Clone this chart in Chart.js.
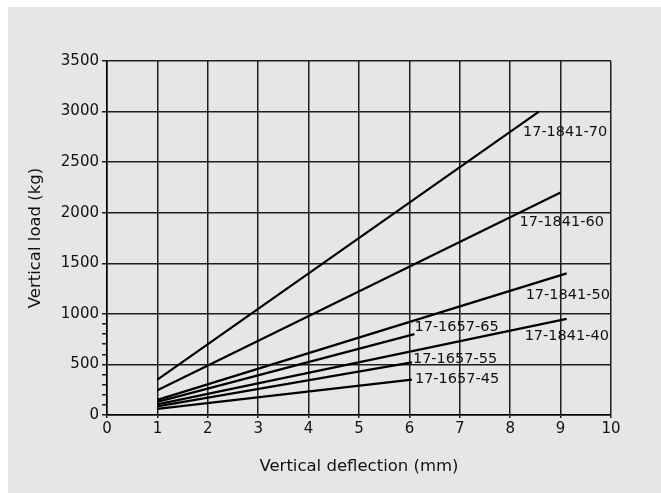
<!DOCTYPE html>
<html>
<head>
<meta charset="utf-8">
<script src="https://cdn.jsdelivr.net/npm/chart.js@4/dist/chart.umd.min.js"></script>
<style>
    html, body { margin: 0; padding: 0; background: #ffffff; overflow: hidden; }
    #box {
        position: fixed;
        left: 8px;
        top: 7px;
        right: 0;
        bottom: 0;
        background: #e6e6e6;
    }
</style>
</head>
<body>
<div id="box"><canvas id="myChart" width="653" height="486"></canvas></div>
<script>
"use strict";

// series: each line runs from a start point to an end point
const seriesNames = ['17-1841-70', '17-1841-60', '17-1841-50', '17-1841-40', '17-1657-65', '17-1657-55', '17-1657-45'];
const startDeflection = [1, 1, 1, 1, 1, 1, 1];
const endDeflection = [8.57, 9.0, 9.12, 9.12, 6.1, 6.05, 6.05];
const startLoad = [350, 245, 150, 105, 130, 85, 60];
const endLoad = [3000, 2200, 1400, 950, 800, 520, 350];

const xTicks = [0, 1, 2, 3, 4, 5, 6, 7, 8, 9, 10];
const yTicks = [0, 500, 1000, 1500, 2000, 2500, 3000, 3500];

// where each name sits, in pixels from the end of its line
const labelOffsets = [[-16, 21], [-41, 30], [-41, 22], [-42, 17], [0, -7], [1, -3], [3, 0]];

const FONT = "'DejaVu Sans', sans-serif";
const INK = '#111111';
const GRID = '#1e1e1e';

const lineLabels = {
    id: 'lineLabels',
    afterDatasetsDraw(chart) {
        const ctx = chart.ctx;
        const x = chart.scales.x;
        const y = chart.scales.y;
        ctx.save();
        ctx.font = '14.5px ' + FONT;
        ctx.fillStyle = INK;
        ctx.textAlign = 'left';
        ctx.textBaseline = 'middle';
        seriesNames.forEach((name, i) => {
            const px = x.getPixelForValue(endDeflection[i]) + labelOffsets[i][0];
            const py = y.getPixelForValue(endLoad[i]) + labelOffsets[i][1];
            ctx.fillText(name, px, py);
        });
        ctx.restore();
    }
};

function CreateChart() {
    const datasets = seriesNames.map((name, i) => ({
        label: name,
        data: [
            { x: startDeflection[i], y: startLoad[i] },
            { x: endDeflection[i], y: endLoad[i] }
        ],
        showLine: true,
        borderColor: '#000000',
        borderWidth: 2.2,
        pointRadius: 0,
        fill: false
    }));

    const ctx = document.getElementById('myChart').getContext('2d');
    new Chart(ctx, {
        type: 'scatter',
        data: { datasets: datasets },
        options: {
            responsive: false,
            animation: false,
            layout: { padding: { left: 0, right: 50, top: 54, bottom: 0 } },
            plugins: {
                legend: { display: false },
                tooltip: { enabled: false }
            },
            scales: {
                x: {
                    type: 'linear',
                    min: 0,
                    max: 10,
                    afterFit: axis => { axis.height = 78; },
                    afterBuildTicks: axis => { axis.ticks = xTicks.map(v => ({ value: v })); },
                    grid: { color: GRID, lineWidth: 1.5, tickLength: 3, tickColor: GRID },
                    border: { color: '#000000', width: 1.5 },
                    ticks: {
                        color: INK,
                        font: { family: FONT, size: 15 },
                        padding: 2,
                        maxRotation: 0
                    },
                    title: {
                        display: true,
                        text: 'Vertical deflection (mm)',
                        color: INK,
                        font: { family: FONT, size: 16.5 },
                        padding: { top: 0, bottom: 16 }
                    }
                },
                y: {
                    type: 'linear',
                    min: 0,
                    max: 3500,
                    afterFit: axis => { axis.width = 99; },
                    ticks: {
                        stepSize: 100,
                        autoSkip: false,
                        color: INK,
                        font: { family: FONT, size: 15 },
                        padding: 3,
                        callback: v => yTicks.includes(v) ? String(v) : ''
                    },
                    grid: {
                        lineWidth: 1.5,
                        tickLength: 5,
                        color: c => yTicks.includes(c.tick.value) ? GRID : 'rgba(0,0,0,0)',
                        tickColor: c => (yTicks.includes(c.tick.value) || c.tick.value < 1000) ? GRID : 'rgba(0,0,0,0)'
                    },
                    border: { color: '#000000', width: 1.5 },
                    title: {
                        display: true,
                        text: 'Vertical load (kg)',
                        color: INK,
                        font: { family: FONT, size: 16.5 },
                        padding: { top: 18, bottom: 0 }
                    }
                }
            }
        },
        plugins: [lineLabels]
    });
}

window.addEventListener('load', () => {
    CreateChart();
});
</script>
</body>
</html>
